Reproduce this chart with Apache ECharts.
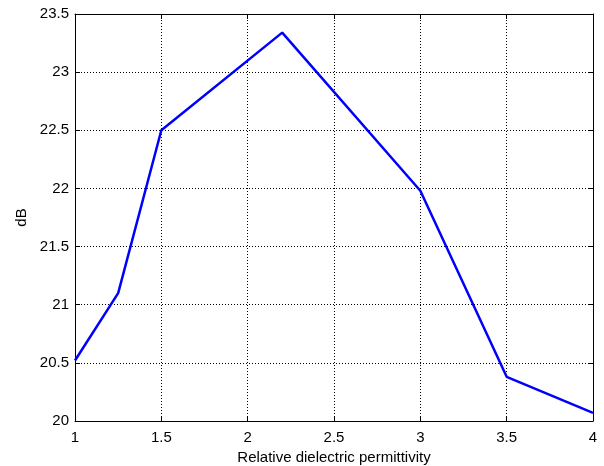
<!DOCTYPE html>
<html><head><meta charset="utf-8">
<script src="https://cdn.jsdelivr.net/npm/echarts@6/dist/echarts.min.js"></script>
<style>html,body{margin:0;padding:0;background:#fff}#c{width:604px;height:466px}</style>
</head><body><div id="c"></div>
<script>
const xValues = [1, 1.25, 1.5, 2.2, 3, 3.5, 4];
const dbValues = [20.52, 21.1, 22.5, 23.34, 21.98, 20.38, 20.07];
const xLabel = 'Relative dielectric permittivity';
const yLabel = 'dB';

const chart = echarts.init(document.getElementById('c'), null, {renderer: 'canvas'});
const font = 'Liberation Sans, Arial, sans-serif';
const axisCommon = {
  axisLine: {show: true, onZero: false, lineStyle: {color: '#000', width: 1}},
  axisTick: {show: true, inside: true, length: 5, lineStyle: {color: '#000'}},
  splitLine: {show: false}
};
chart.setOption({
  animation: false,
  backgroundColor: '#fff',
  grid: {left: 75, top: 14, right: 11, bottom: 45, containLabel: false, outerBoundsMode: 'none'},
  xAxis: [
    Object.assign({}, axisCommon, {
      type: 'value', min: 1, max: 4, interval: 0.5, position: 'bottom',
      name: xLabel, nameLocation: 'middle', nameGap: 28,
      nameTextStyle: {color: '#000', fontFamily: font, fontSize: 15},
      axisLabel: {color: '#000', fontFamily: font, fontSize: 15, margin: 9},
      splitLine: {show: true, lineStyle: {color: '#000', type: [1, 2], width: 1}}
    }),
    Object.assign({}, axisCommon, {
      type: 'value', min: 1, max: 4, interval: 0.5, position: 'top',
      axisLabel: {show: false}
    })
  ],
  yAxis: [
    Object.assign({}, axisCommon, {
      type: 'value', min: 20, max: 23.5, interval: 0.5, position: 'left',
      name: yLabel, nameLocation: 'middle', nameGap: 46,
      nameTextStyle: {color: '#000', fontFamily: font, fontSize: 15},
      axisLabel: {color: '#000', fontFamily: font, fontSize: 15, margin: 6},
      splitLine: {show: true, lineStyle: {color: '#000', type: [1, 2], width: 1}}
    }),
    Object.assign({}, axisCommon, {
      type: 'value', min: 20, max: 23.5, interval: 0.5, position: 'right',
      axisLabel: {show: false}
    })
  ],
  series: [{
    type: 'line',
    data: xValues.map((x, i) => [x, dbValues[i]]),
    showSymbol: false,
    lineStyle: {color: '#0000ff', width: 2.5},
    itemStyle: {color: '#0000ff'}
  }]
});
</script></body></html>
